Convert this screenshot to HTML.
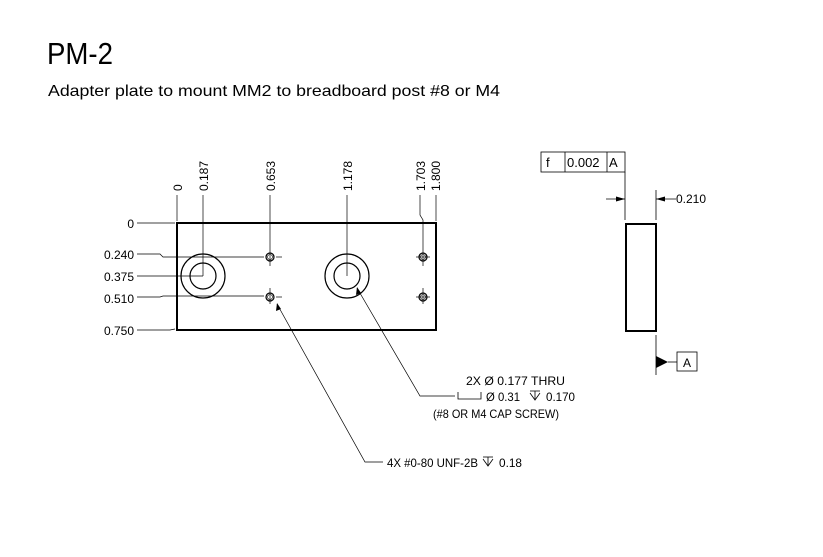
<!DOCTYPE html>
<html><head><meta charset="utf-8"><style>
html,body{margin:0;padding:0;background:#fff;}
svg{display:block;font-family:"Liberation Sans",Arial,sans-serif;}
</style></head><body>
<svg width="823" height="557" viewBox="0 0 823 557" xmlns="http://www.w3.org/2000/svg">
<text x="47" y="64" font-size="31" textLength="66" lengthAdjust="spacingAndGlyphs">PM-2</text>
<text x="48" y="96" font-size="16" textLength="452" lengthAdjust="spacingAndGlyphs">Adapter plate to mount MM2 to breadboard post #8 or M4</text>

<g stroke="#000" fill="none">
<rect x="177" y="223" width="259" height="107" stroke-width="2"/>
<circle cx="203" cy="276" r="22" stroke-width="1.2"/>
<circle cx="203" cy="276" r="13" stroke-width="1.2"/>
<circle cx="347" cy="276" r="22" stroke-width="1.2"/>
<circle cx="347" cy="276" r="13" stroke-width="1.2"/>
<circle cx="270" cy="257" r="4" stroke-width="1.2"/>
<circle cx="270" cy="297" r="4" stroke-width="1.2"/>
<circle cx="423" cy="257" r="4" stroke-width="1.2"/>
<circle cx="423" cy="297" r="4" stroke-width="1.2"/>
<circle cx="270" cy="257" r="2.5" stroke-width="0.6"/>
<circle cx="270" cy="297" r="2.5" stroke-width="0.6"/>
<circle cx="423" cy="257" r="2.5" stroke-width="0.6"/>
<circle cx="423" cy="297" r="2.5" stroke-width="0.6"/>
</g>
<g stroke="#000" stroke-width="0.7" fill="none">
<line x1="177" y1="195" x2="177" y2="221"/>
<line x1="203" y1="195" x2="203" y2="276"/>
<line x1="270" y1="195" x2="270" y2="266"/>
<line x1="347" y1="195" x2="347" y2="276"/>
<polyline points="420,195 420,215 423,220 423,266"/>
<line x1="436" y1="195" x2="436" y2="221"/>
<line x1="423" y1="288" x2="423" y2="304"/>
<line x1="270" y1="288" x2="270" y2="304"/>
<line x1="137" y1="223" x2="175" y2="223"/>
<polyline points="137,254 160,254 163,257 264,257"/>
<line x1="276" y1="257" x2="282" y2="257"/>
<line x1="416" y1="257" x2="430" y2="257"/>
<line x1="137" y1="276" x2="203" y2="276"/>
<polyline points="137,297 160,297 163,296 264,296"/>
<line x1="276" y1="297" x2="282" y2="297"/>
<line x1="416" y1="297" x2="430" y2="297"/>
<polyline points="137,330 170,330 175,329"/>
<polyline points="357,288 420,396 455,396"/>
<polyline points="277,304 365,462 383,462"/>
</g>
<polygon points="357,287 356,295 361,293" fill="#000"/>
<polygon points="277,303 276,311 281,309" fill="#000"/>
<g font-size="12" fill="#000">
<text transform="translate(182,191) rotate(-90)">0</text>
<text transform="translate(208,191) rotate(-90)">0.187</text>
<text transform="translate(275,191) rotate(-90)">0.653</text>
<text transform="translate(352,191) rotate(-90)">1.178</text>
<text transform="translate(425,191) rotate(-90)">1.703</text>
<text transform="translate(440,191) rotate(-90)">1.800</text>
<text x="134" y="228" text-anchor="end">0</text>
<text x="134" y="259" text-anchor="end">0.240</text>
<text x="134" y="281" text-anchor="end">0.375</text>
<text x="134" y="303" text-anchor="end">0.510</text>
<text x="134" y="335" text-anchor="end">0.750</text>
<text x="466" y="385" textLength="99" lengthAdjust="spacingAndGlyphs">2X  Ø  0.177 THRU</text>
<text x="486" y="401" textLength="34" lengthAdjust="spacingAndGlyphs">Ø 0.31</text>
<text x="546" y="401" textLength="29" lengthAdjust="spacingAndGlyphs">0.170</text>
<text x="433" y="418" textLength="126" lengthAdjust="spacingAndGlyphs">(#8 OR M4 CAP SCREW)</text>
<text x="387" y="467" textLength="91" lengthAdjust="spacingAndGlyphs">4X #0-80 UNF-2B</text>
<text x="499" y="467" textLength="23" lengthAdjust="spacingAndGlyphs">0.18</text>
</g>
<g stroke="#000" stroke-width="0.8" fill="none">
<polyline points="458,392 458,399 481,399 481,392"/>
<line x1="530" y1="391" x2="540" y2="391"/>
<polyline points="530,393 535,400 540,393"/>
<line x1="535" y1="391" x2="535" y2="400"/>
<line x1="483" y1="457" x2="493" y2="457"/>
<polyline points="483,459 488,466 493,459"/>
<line x1="488" y1="457" x2="488" y2="466"/>
</g>

<rect x="626" y="224" width="30" height="107" stroke="#000" stroke-width="2" fill="none"/>
<g stroke="#000" stroke-width="0.8" fill="none">
<rect x="541" y="152" width="84" height="20"/>
<line x1="565" y1="152" x2="565" y2="172"/>
<line x1="607" y1="152" x2="607" y2="172"/>
<line x1="625" y1="172" x2="625" y2="220"/>
<line x1="606" y1="199" x2="625" y2="199"/>
<line x1="656" y1="190" x2="656" y2="220"/>
<line x1="656" y1="199" x2="676" y2="199"/>
<line x1="656" y1="335" x2="656" y2="375"/>
<line x1="668" y1="362" x2="677" y2="362"/>
<rect x="677" y="352" width="20" height="19"/>
</g>
<polygon points="625,199 616,196.5 616,201.5" fill="#000"/>
<polygon points="656,199 665,196.5 665,201.5" fill="#000"/>
<polygon points="656,356 668,362 656,368" fill="#000"/>
<g font-size="13" fill="#000">
<text x="546" y="167">f</text>
<text x="567" y="167">0.002</text>
<text x="609" y="167">A</text>
<text x="676" y="203" font-size="12">0.210</text>
<text x="683" y="367" font-size="12">A</text>
</g>
</svg>
</body></html>
